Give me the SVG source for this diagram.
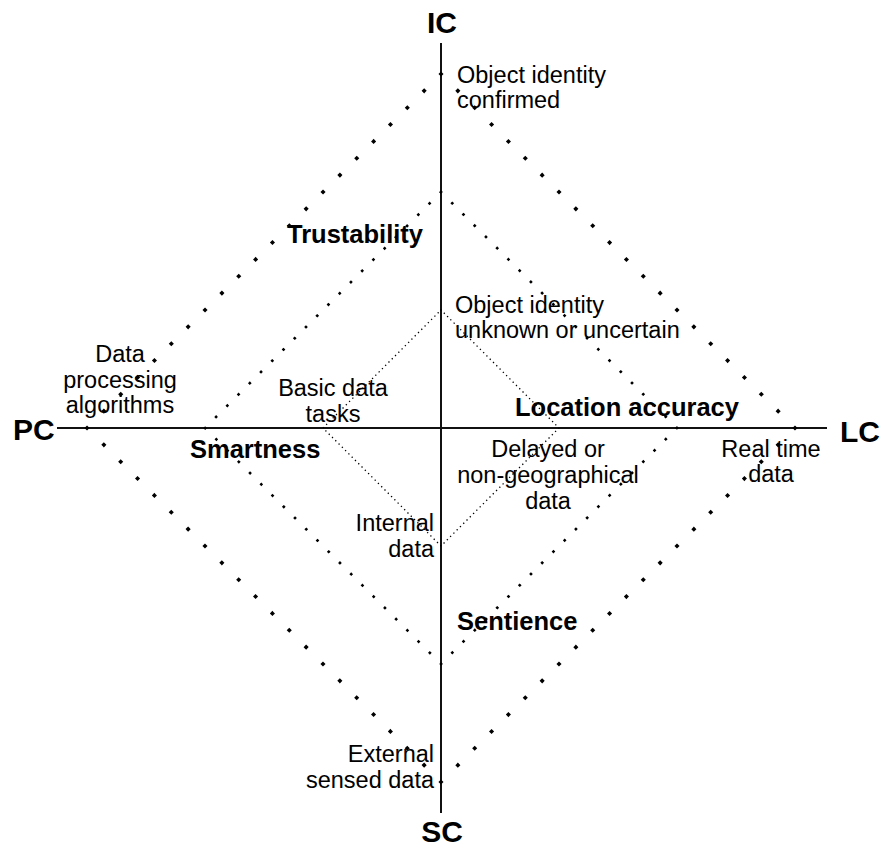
<svg xmlns="http://www.w3.org/2000/svg" width="881" height="848" viewBox="0 0 881 848">
  <style>
    .axis { stroke: #111; stroke-width: 2; fill: none; }
    .ring { fill: none; stroke: #000; stroke-linecap: square; }
    .outer { stroke-width: 3.6; stroke-dasharray: 0.01 23.83; }
    .middle { stroke-width: 2.6; stroke-dasharray: 0.01 15.88; }
    .inner { stroke-width: 1.3; stroke-dasharray: 0.01 4.63; }
    text { font-family: "Liberation Sans", Arial, Helvetica, sans-serif; fill: #000; }
    .pole { font-size: 30px; font-weight: bold; }
    .dim { font-size: 25.5px; font-weight: bold; }
    .note { font-size: 23.5px; }
    .mid { text-anchor: middle; }
    .end { text-anchor: end; }
  </style>

  <!-- axes and the three dotted rings -->
  <g id="connectors">
    <path class="axis" d="M441,43 V813"/>
    <path class="axis" d="M57,428 H827"/>
    <path class="ring outer" d="M441,74 L795,428 L441,782 L87,428 Z"/>
    <path class="ring middle" d="M441,192 L677,428 L441,664 L205,428 Z"/>
    <path class="ring inner" d="M441,310 L559,428 L441,546 L323,428 Z"/>
  </g>

  <!-- pole labels -->
  <g id="pole-ic"><text class="pole mid" x="442" y="33">IC</text></g>
  <g id="pole-sc"><text class="pole mid" x="442" y="842">SC</text></g>
  <g id="pole-pc"><text class="pole" x="13" y="440">PC</text></g>
  <g id="pole-lc"><text class="pole" x="840" y="442">LC</text></g>

  <!-- quadrant dimensions -->
  <g id="trustability"><text class="dim" x="287" y="243">Trustability</text></g>
  <g id="smartness"><text class="dim" x="190" y="458">Smartness</text></g>
  <g id="location-accuracy"><text class="dim" x="515" y="416">Location accuracy</text></g>
  <g id="sentience"><text class="dim" x="457" y="630">Sentience</text></g>

  <!-- level notes -->
  <g id="identity-confirmed">
    <text class="note" x="457" y="83">Object identity</text>
    <text class="note" x="457" y="108">confirmed</text>
  </g>
  <g id="identity-unknown">
    <text class="note" x="455" y="313">Object identity</text>
    <text class="note" x="455" y="338">unknown or uncertain</text>
  </g>
  <g id="processing-algorithms">
    <text class="note mid" x="120" y="362">Data</text>
    <text class="note mid" x="120" y="388">processing</text>
    <text class="note mid" x="120" y="413">algorithms</text>
  </g>
  <g id="basic-tasks">
    <text class="note mid" x="333" y="396">Basic data</text>
    <text class="note mid" x="333" y="422">tasks</text>
  </g>
  <g id="delayed-data">
    <text class="note mid" x="548" y="457">Delayed or</text>
    <text class="note mid" x="548" y="483">non-geographical</text>
    <text class="note mid" x="548" y="509">data</text>
  </g>
  <g id="real-time-data">
    <text class="note mid" x="771" y="457">Real time</text>
    <text class="note mid" x="771" y="482">data</text>
  </g>
  <g id="internal-data">
    <text class="note end" x="434" y="531">Internal</text>
    <text class="note end" x="434" y="557">data</text>
  </g>
  <g id="external-data">
    <text class="note end" x="434" y="762">External</text>
    <text class="note end" x="434" y="788">sensed data</text>
  </g>
</svg>
